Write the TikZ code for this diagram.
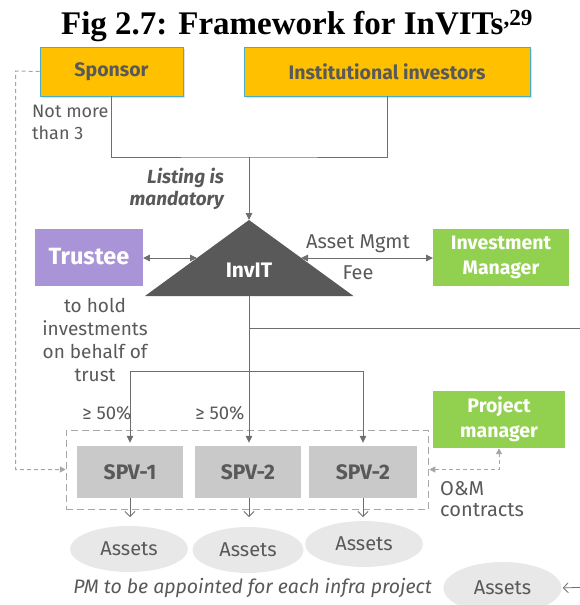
\documentclass[tikz,border=0pt]{standalone}
\usepackage{fontspec}
\setmainfont{Fira Sans}
\newfontfamily\titlefont{Liberation Serif}
\usetikzlibrary{arrows.meta,shapes.geometric,shadows}
\definecolor{txtgray}{HTML}{595959}
\definecolor{amber}{HTML}{FFC000}
\definecolor{tealb}{HTML}{4BACC6}
\definecolor{purp}{HTML}{A994D8}
\definecolor{grn}{HTML}{92D050}
\definecolor{spvgray}{HTML}{C9C9C9}
\definecolor{assetgray}{HTML}{E8E8E8}
\definecolor{linegray}{HTML}{6E6E6E}
\definecolor{dashgray}{HTML}{A6A6A6}
\tikzset{
  boxbase/.style={rectangle, inner sep=0pt, align=center, font=\fontsize{19.5}{25}\selectfont\bfseries},
  yellowbox/.style={boxbase, fill=amber, draw=tealb, line width=0.8pt, text=txtgray,
     drop shadow={opacity=0.25, shadow xshift=1.5pt, shadow yshift=-1.5pt}},
  greenbox/.style={boxbase, fill=grn, text=white},
  spvbox/.style={boxbase, fill=spvgray, text=txtgray, minimum width=106pt, minimum height=52pt,
     font=\fontsize{21}{24}\selectfont\bfseries},
  assetell/.style={ellipse, fill=assetgray, inner sep=0pt, minimum width=118pt, minimum height=46pt,
     text=txtgray, font=\fontsize{20}{24}\selectfont},
  lbl/.style={text=txtgray, inner sep=0pt, font=\fontsize{19}{23}\selectfont},
  conn/.style={draw=linegray, line width=1pt},
  arr/.style={conn, -{Triangle[length=7pt,width=6.5pt]}},
  darr/.style={conn, {Triangle[length=7pt,width=6.5pt]}-{Triangle[length=7pt,width=6.5pt]}},
  openarr/.style={draw=linegray, line width=0.8pt, -{Straight Barb[length=5pt,width=10pt]}},
  dashline/.style={draw=dashgray, line width=1pt, dash pattern=on 4pt off 3pt},
}
\begin{document}
\begin{tikzpicture}[x=1pt,y=-1pt]
\useasboundingbox (0,0) rectangle (579,605);
% title
\node[inner sep=0pt, font=\titlefont\bfseries\fontsize{33}{38}\selectfont] (title) at (297,26) {Fig 2.7: Framework for InVITs\textsuperscript{,29}};
% top boxes
\node[yellowbox, minimum width=143pt, minimum height=49pt] (sponsor) at (111.5,71.5) {Sponsor};
\node[yellowbox, minimum width=286pt, minimum height=49pt] (inst) at (387,71.5) {Institutional investors};
\node[lbl, anchor=north west, align=left, font=\fontsize{18}{21.5}\selectfont] (notmore) at (32,105) {Not more\\than 3};
% joining lines
\coordinate (join) at (249,157);
\coordinate (apex) at (249,220);
\coordinate (tbl) at (145,296);
\coordinate (tbr) at (353.5,296);
\coordinate (tbot) at (249,296);
\coordinate (tleft) at (197,258);
\coordinate (tright) at (301,258);
\draw[conn] (sponsor.south) |- (join) -| (inst.south);
\draw[arr] (join) -- (apex);
\node[lbl, anchor=east, align=right, font=\fontsize{19}{22.5}\selectfont\bfseries\itshape] (listing) at (224,189) {Listing is\\mandatory};
% InvIT triangle
\fill[txtgray] (apex) -- (tbr) -- (tbl) -- cycle;
\node[inner sep=0pt, text=white, font=\fontsize{21}{24}\selectfont\bfseries] (invit) at (249,270) {InvIT};
% Trustee
\node[boxbase, fill=purp, text=white, minimum width=107.5pt, minimum height=57pt, font=\fontsize{23.5}{26}\selectfont\bfseries] (trustee) at (89,257) {Trustee};
\draw[darr] (trustee.east |- tleft) -- (tleft);
\node[lbl, align=center] (hold) at (95,340) {to hold\\investments\\on behalf of\\trust};
% Investment manager
\node[greenbox, minimum width=135.5pt, minimum height=57pt] (im) at (501,257.5) {Investment\\Manager};
\draw[darr] (tright) -- (im.west |- tright);
\node[lbl, font=\fontsize{20}{22}\selectfont] (amf) at (358,244) {Asset Mgmt};
\node[lbl, font=\fontsize{20}{22}\selectfont] (fee) at (358,273) {Fee};
% lines down
\coordinate (split) at (249,371);
\coordinate (rline) at (590,328);
\coordinate (rjoin) at (249,328);
\draw[conn] (tbot) -- (split);
\draw[conn] (rjoin) -- (rline);
% dashed group
\node[draw=dashgray, line width=1pt, dash pattern=on 7pt off 4pt, minimum width=362.5pt, minimum height=79pt, inner sep=0pt] (grp) at (247.5,469.5) {};
\node[spvbox] (spv1) at (130,472) {SPV-1};
\node[spvbox] (spv2) at (248,472) {SPV-2};
\node[spvbox, minimum width=107.5pt] (spv3) at (363,472) {SPV-2};
\draw[arr, shorten >=3pt] (split) -| (spv1.north);
\draw[arr, shorten >=3pt] (split) -- (split |- spv2.north);
\draw[arr, shorten >=3pt] (split) -| (spv3.north);
\node[lbl, font=\fontsize{18.5}{22}\selectfont] (p1) at (107,413) {≥ 50\%};
\node[lbl, font=\fontsize{18.5}{22}\selectfont] (p2) at (220,413) {≥ 50\%};
% assets
\node[assetell] (a1) at (129,549) {Assets};
\node[assetell, minimum width=111pt] (a2) at (248,550) {Assets};
\node[assetell] (a3) at (364,544) {Assets};
\node[assetell, minimum height=52pt] (a4) at (502.5,588) {Assets};
\draw[openarr] (spv1.south) -- (spv1.south |- 0,517);
\draw[openarr] (spv2.south -| split) -- (split |- 0,517);
\draw[openarr] (spv3.south) -- (spv3.south |- 0,517);
\coordinate (r4) at (590,587);
\draw[openarr, shorten >=1pt] (r4) -- (a4.east);
% sponsor dashed link
\coordinate (dl) at (15.5,71);
\draw[dashline, -{Triangle[length=6pt,width=6pt]}] (sponsor.west) -- (dl) |- (grp.west);
% project manager
\node[greenbox, minimum width=132pt, minimum height=57pt] (pm) at (499,419.5) {Project\\manager};
\draw[dashline, {Triangle[length=6pt,width=6pt]}-{Triangle[length=6pt,width=6pt]}] (grp.east) -| (pm.south);
\node[lbl, anchor=west, align=left, font=\fontsize{20}{21}\selectfont] (om) at (440,499) {O\&M\\contracts};
\node[lbl, font=\fontsize{19.5}{21}\selectfont\itshape] (pmtext) at (252.5,588) {PM to be appointed for each infra project};
\end{tikzpicture}
\end{document}
